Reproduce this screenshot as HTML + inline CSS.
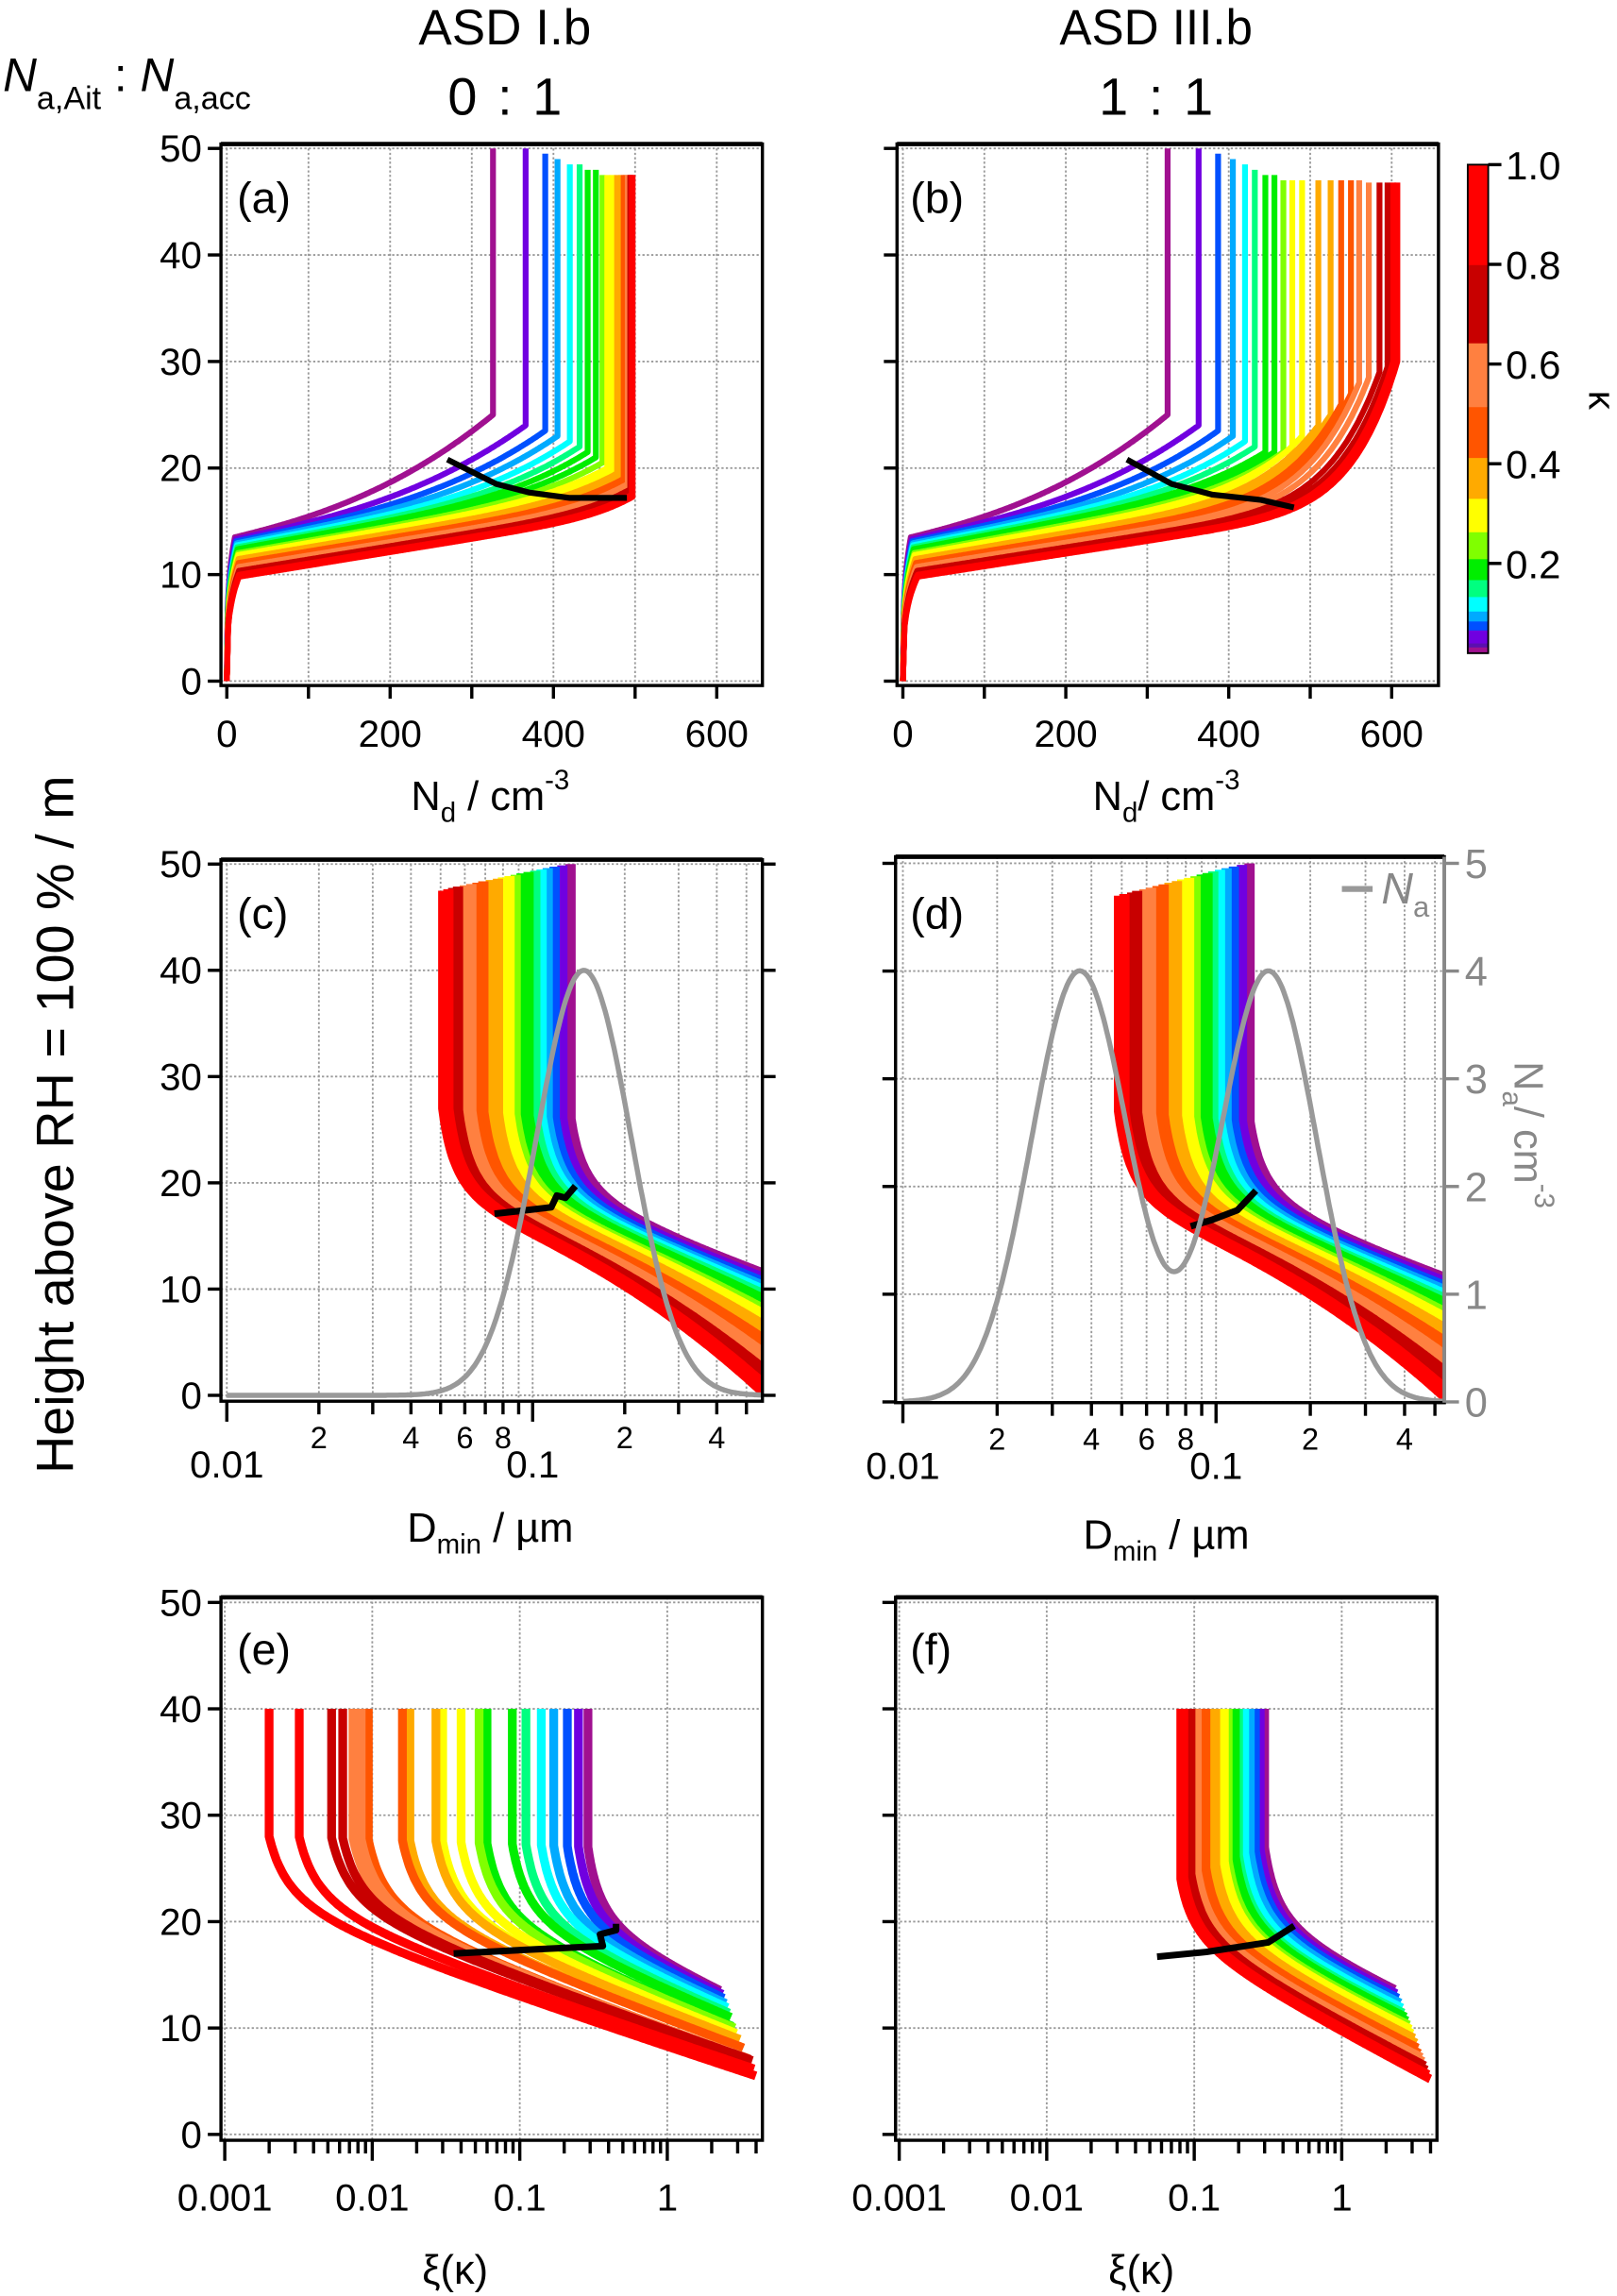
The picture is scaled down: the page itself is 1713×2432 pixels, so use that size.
<!DOCTYPE html>
<html><head><meta charset="utf-8"><style>
html,body{margin:0;padding:0;background:#fff}
svg{display:block}
text{font-family:"Liberation Sans",sans-serif}
</style></head><body>
<svg id="fig" width="1713" height="2432" viewBox="0 0 1105 1568" xmlns="http://www.w3.org/2000/svg">
<defs>
<clipPath id="clipA"><rect x="151" y="98" width="370" height="370"/></clipPath>
<clipPath id="clipB"><rect x="613" y="98" width="370" height="370"/></clipPath>
<clipPath id="clipC"><rect x="151" y="587" width="370" height="370"/></clipPath>
<clipPath id="clipD"><rect x="612" y="585" width="375" height="373"/></clipPath>
<clipPath id="clipE"><rect x="151" y="1091" width="370" height="371"/></clipPath>
<clipPath id="clipF"><rect x="612" y="1091" width="370" height="371"/></clipPath>
</defs>
<text x="345" y="30" font-size="34" text-anchor="middle" textLength="118" lengthAdjust="spacingAndGlyphs">ASD I.b</text>
<text x="345" y="78" font-size="36" text-anchor="middle">0 <tspan dx="4">:</tspan> <tspan dx="4">1</tspan></text>
<text x="790" y="30" font-size="34" text-anchor="middle" textLength="132" lengthAdjust="spacingAndGlyphs">ASD III.b</text>
<text x="790" y="78" font-size="36" text-anchor="middle">1 <tspan dx="4">:</tspan> <tspan dx="4">1</tspan></text>
<text x="2" y="62" font-size="32"><tspan font-style="italic">N</tspan><tspan font-size="22" dy="12">a,Ait</tspan><tspan dy="-12"> : </tspan><tspan font-style="italic">N</tspan><tspan font-size="22" dy="12">a,acc</tspan></text>
<text transform="translate(50,768) rotate(-90)" font-size="36" text-anchor="middle">Height above RH = 100 % / m</text>
</svg>
<script>
// ===== data =====
const kappas = [0.03,0.06,0.08,0.1,0.12,0.14,0.17,0.2,0.24,0.28,0.3,0.35,0.4,0.45,0.5,0.55,0.6,0.7,0.8,0.9,1.0];
const ndFinalA = [326,366,390,405,420,432,442,452,460,466,472,478,483,486,489,491,493,494,495,496,497];
const ndFinalB = [325,363,387,405,420,432,445,456,467,478,490,510,525,538,550,560,572,585,595,602,607];
const hEndA = [25,24,23.5,23,22.5,22,21.5,21,20.5,20,19.8,19.5,19.2,19,18.8,18.5,18.2,18,17.8,17.5,17.3];
const hEndB = [25,24,23.5,23,22.5,22,21.5,21.5,21.5,22,23,24,25,26,27,28,28.5,29,29.5,30,30];
const hTopA = [50,50,49.5,49,48.5,48.5,48,48,47.5,47.5,47.5,47.5,47.5,47.5,47.5,47.5,47.5,47.5,47.5,47.5,47.5];
const hTopB = [50,50,49.5,49,48.5,48,47.5,47.5,47,47,47,47,47,47,47,47,46.8,46.8,46.8,46.8,46.8];
const dVertC = [0.133,0.125,0.118,0.112,0.107,0.102,0.097,0.092,0.088,0.084,0.080,0.077,0.073,0.069,0.066,0.063,0.060,0.057,0.055,0.053,0.051];
const dVertD = [0.128,0.121,0.114,0.108,0.103,0.098,0.094,0.090,0.086,0.082,0.078,0.075,0.071,0.068,0.065,0.062,0.059,0.056,0.054,0.051,0.049];
const xiVertE = [0.29,0.25,0.21,0.17,0.14,0.11,0.089,0.060,0.053,0.040,0.030,0.027,0.018,0.016,0.0094,0.0084,0.0074,0.0063,0.0053,0.0032,0.0020];
const xiVertF = [0.30,0.28,0.26,0.24,0.22,0.20,0.19,0.18,0.17,0.16,0.15,0.14,0.13,0.12,0.11,0.105,0.10,0.095,0.09,0.085,0.081];
const blackA_N = [270,330,370,420,490];
const blackA_H = [20.8,18.5,17.7,17.2,17.2];
const blackB_N = [275,330,380,440,480];
const blackB_H = [20.8,18.5,17.5,17.0,16.3];
const blackC_D = [0.075,0.0876,0.115,0.12,0.128,0.138];
const blackC_H = [17.1,17.3,17.7,18.8,18.6,19.7];
const blackD_D = [0.083,0.097,0.117,0.134];
const blackD_H = [16.3,16.9,17.8,19.6];
const blackE_X = [0.0356,0.129,0.366,0.35,0.45,0.45];
const blackE_H = [17.0,17.4,17.7,18.8,19.2,19.8];
const blackF_X = [0.056,0.121,0.318,0.476];
const blackF_H = [16.7,17.15,18.05,19.6];
const naModesC = [0.147];
const naModesD = [0.0367,0.147];
const naPeak = 4;
const naSigma = 0.155;
const cbTicks = [0.2,0.4,0.6,0.8,1.0];
const cbBounds = [0.02,0.033,0.041,0.067,0.085,0.105,0.134,0.168,0.21,0.264,0.331,0.413,0.515,0.643,0.8,1.0];
const cbColors = ['#a01090','#5a10b0','#7000e0','#0050ff','#00aaff','#00ffff','#00ff80','#00ee00','#80ff00','#ffff00','#ffaa00','#ff5500','#ff8040','#c80000','#ff0000'];
const heightTicks = [0,10,20,30,40,50];
const ndTicks = [0,100,200,300,400,500,600];
const ndLabels = [0,200,400,600];
const naTicks = [0,1,2,3,4,5];

// ===== helpers =====
const NS='http://www.w3.org/2000/svg';
const svg=document.getElementById('fig');
function mk(tag,attrs,parent){const e=document.createElementNS(NS,tag);for(const k in attrs)e.setAttribute(k,attrs[k]);(parent||svg).appendChild(e);return e;}
function colorOf(k){for(let i=0;i<cbColors.length;i++){if(k<=cbBounds[i+1]+1e-9)return cbColors[i];}return cbColors[cbColors.length-1];}
const lg=Math.log10;
function lerp(a,b,t){return a+(b-a)*t;}
const n=kappas.length;

const P={
 A:{bx:151,by:98,bw:370,bh:370,x:v=>155+v*0.558,y:h=>465-h*7.28,clip:'clipA'},
 B:{bx:613,by:98,bw:370,bh:370,x:v=>617+v*0.5567,y:h=>465-h*7.28,clip:'clipB'},
 C:{bx:151,by:587,bw:370,bh:370,x:v=>155+(lg(v)+2)*209,y:h=>953-h*7.26,clip:'clipC'},
 D:{bx:612,by:585,bw:375,bh:373,x:v=>617+(lg(v)+2)*214,y:h=>957.5-h*7.36,clip:'clipD'},
 E:{bx:151,by:1091,bw:370,bh:371,x:v=>153.6+(lg(v)+3)*100.8,y:h=>1458-h*7.27,clip:'clipE'},
 F:{bx:612,by:1091,bw:370,bh:371,x:v=>614.5+(lg(v)+3)*100.8,y:h=>1458-h*7.27,clip:'clipF'}
};

function gridLine(x1,y1,x2,y2,g){const l=mk('line',{x1,y1,x2,y2,stroke:'#9a9a9a','stroke-width':1.2,'stroke-dasharray':'1.5,1.5'},g);

}
function tick(x1,y1,x2,y2,g,col){const l=mk('line',{x1,y1,x2,y2,stroke:col||'#000','stroke-width':2.2},g);

}
function label(x,y,s,size,g,anchor,col){const t=mk('text',{x,y,'font-size':size,'text-anchor':anchor||'middle',fill:col||'#000'},g);t.textContent=s;

return t;}

function frame(p,key){
 const g=mk('g',{});
 
 
 p.g=g;
 heightTicks.forEach(h=>{gridLine(p.bx,p.y(h),p.bx+p.bw,p.y(h),g);tick(p.bx-9,p.y(h),p.bx,p.y(h),g);});
 return g;
}
function box(p){
 const r=mk('rect',{x:p.bx,y:p.by,width:p.bw,height:p.bh,fill:'none',stroke:'#000','stroke-width':2.2},p.g);
 
 
 const t=mk('line',{x1:p.bx,y1:p.by,x2:p.bx+p.bw,y2:p.by,stroke:'#000','stroke-width':3},p.g);
 
 
}
function curve(p,pts,col,w,name){
 const d='M'+pts.map(q=>p.x(q[0]).toFixed(1)+','+p.y(q[1]).toFixed(1)).join('L');
 const e=mk('path',{d,fill:'none',stroke:col,'stroke-width':w,'stroke-linejoin':'round','clip-path':'url(#'+p.clip+')'},p.g);
 
 
 return e;
}

// ===== panels A, B =====
[['A',ndFinalA,hEndA,hTopA,6,10,6,2.5],['B',ndFinalB,hEndB,hTopB,7,11,6,2.5]].forEach(([key,NF,HE,HT,linR,pR,linP,pP])=>{
 const p=P[key];const g=frame(p,key.toLowerCase());
 ndTicks.forEach(v=>{gridLine(p.x(v),p.by,p.x(v),p.by+p.bh,g);tick(p.x(v),p.by+p.bh,p.x(v),p.by+p.bh+9,g);});
 if(key==='A')heightTicks.forEach(h=>label(p.bx-13,p.y(h)+9,String(h),26,g,'end'));
 ndLabels.forEach(v=>label(p.x(v),p.by+p.bh+42,String(v),26,g));
 for(let i=0;i<n;i++){
  const t=i/(n-1);const hk=lerp(13.5,9.8,t);const lin=lerp(linP,linR,t);const pw=lerp(pP,pR,t);
  const pts=[];
  for(let s=0;s<=300;s++){const r=s/300;let h;
   if(r<0.03)h=hk*Math.pow(r/0.03,0.3);
   else{const rr=(r-0.03)/0.97;h=hk+lin*rr+(HE[i]-hk-lin)*Math.pow(rr,pw);}
   pts.push([NF[i]*r,h]);}
  pts.push([NF[i],HT[i]]);
  curve(p,pts,colorOf(kappas[i]),4,'nd-curve-kappa-'+kappas[i]);
 }
 const bN=key==='A'?blackA_N:blackB_N,bH=key==='A'?blackA_H:blackB_H;
 curve(p,bN.map((v,j)=>[v,bH[j]]),'#000',4,'max-supersaturation-line');
 box(p);
});
(function(){const t=mk('text',{x:335,y:553,'font-size':28,'text-anchor':'middle'});t.innerHTML='N<tspan font-size="19" dy="8">d</tspan><tspan dy="-8"> / cm</tspan><tspan font-size="19" dy="-14">-3</tspan>';


const t2=mk('text',{x:797,y:553,'font-size':28,'text-anchor':'middle'});t2.innerHTML='N<tspan font-size="19" dy="8">d</tspan><tspan dy="-8">/ cm</tspan><tspan font-size="19" dy="-14">-3</tspan>';

})();

// ===== panels C, D =====
[['C',dVertC,naModesC],['D',dVertD,naModesD]].forEach(([key,DV,modes])=>{
 const p=P[key];const g=frame(p,key.toLowerCase());
 const dmaxLog=key==='C'?-0.25:-0.27;
 for(let dec=-2;dec<=-1;dec++)for(let m=1;m<=9;m++){const v=m*Math.pow(10,dec);if(lg(v)>dmaxLog)continue;
  const X=p.x(v);gridLine(X,p.by,X,p.by+p.bh,g);tick(X,p.by+p.bh,X,p.by+p.bh+(m===1?14:9),g);
  if(m===2||m===4||m===6||m===8)label(X,p.by+p.bh+32,String(m),21,g);}
 label(p.x(0.01),p.by+p.bh+52,'0.01',26,g);label(p.x(0.1),p.by+p.bh+52,'0.1',26,g);
 if(key==='C'){heightTicks.forEach(h=>{label(p.bx-13,p.y(h)+9,String(h),26,g,'end');tick(p.bx+p.bw,p.y(h),p.bx+p.bw+9,p.y(h),g);});}
 else{naTicks.forEach(v=>{tick(p.bx+p.bw,p.y(v*10),p.bx+p.bw+10,p.y(v*10),g,'#888');label(p.bx+p.bw+14,p.y(v*10)+10,String(v),28,g,'start','#888');});}
 for(let i=0;i<n;i++){
  const t=i/(n-1);const hK=lerp(26,27,t),hInf=lerp(17.1,16,t),s1=lerp(10,5,t),s2=lerp(0,10,t),w=0.05;
  const top=lerp(50,key==='C'?47.5:47,t);
  const pts=[[DV[i],top],[DV[i],hK]];
  const x0=lg(DV[i]);
  for(let s=1;s<=200;s++){const dl=(dmaxLog+0.02-x0)*s/200;const h=hInf+(hK-hInf)/(1+dl/w)-s1*dl-s2*dl*dl;pts.push([Math.pow(10,x0+dl),h]);}
  curve(p,pts,colorOf(kappas[i]),7,'dmin-band-kappa-'+kappas[i]);
 }
 const bd=key==='C'?blackC_D:blackD_D,bh=key==='C'?blackC_H:blackD_H;
 curve(p,bd.map((v,j)=>[v,bh[j]]),'#000',4.5,'max-supersaturation-line');
 const na=[];for(let s=0;s<=300;s++){const lx=-2+s/300*(dmaxLog+2);let v=0;modes.forEach(m=>{const z=(lx-lg(m))/naSigma;v+=naPeak*Math.exp(-z*z/2);});na.push([Math.pow(10,lx),v*10]);}
 curve(p,na,'#999',3.5,'aerosol-size-distribution');
 box(p);
 if(key==='D'){const ax=mk('line',{x1:p.bx+p.bw,y1:p.by,x2:p.bx+p.bw,y2:p.by+p.bh,stroke:'#888','stroke-width':2.5},g);
  
  }
});
(function(){
 const mkT=(x,y,name,html,extra)=>{const t=mk('text',Object.assign({x,y,'font-size':28,'text-anchor':'middle'},extra||{}));t.innerHTML=html;
  
  return t;};
 mkT(335,1053,'x-axis-title-c','D<tspan font-size="19" dy="8">min</tspan><tspan dy="-8"> / µm</tspan>');
 mkT(797,1058,'x-axis-title-d','D<tspan font-size="19" dy="8">min</tspan><tspan dy="-8"> / µm</tspan>');
 mkT(0,0,'y-axis-title-right','N<tspan font-size="19" dy="8">a</tspan><tspan dy="-8">/ cm</tspan><tspan font-size="19" dy="-14">-3</tspan>',{transform:'translate(1035,775) rotate(90)',fill:'#888'});
 const l=mk('line',{x1:917,y1:607,x2:938,y2:607,stroke:'#999','stroke-width':4});
 
 
 const lt=mk('text',{x:944,y:617,'font-size':30,fill:'#888'});lt.innerHTML='<tspan font-style="italic">N</tspan><tspan font-size="20" dy="9">a</tspan>';
 
 
})();

// ===== panels E, F =====
[['E',xiVertE,[18,20],[6,4.5],[27,28],[0.1,0.15]],['F',xiVertF,[18,17],[6,7.2],[27,24],[0.1,0.1]]].forEach(([key,XV,HI,SS,HV,WW])=>{
 const p=P[key];const g=frame(p,key.toLowerCase());
 for(let dec=-3;dec<=0;dec++)for(let m=1;m<=9;m++){const v=m*Math.pow(10,dec);if(p.x(v)>p.bx+p.bw-2)continue;
  const X=p.x(v);if(m===1)gridLine(X,p.by,X,p.by+p.bh,g);tick(X,p.by+p.bh,X,p.by+p.bh+(m===1?14:9),g);}
 ['0.001','0.01','0.1','1'].forEach(s=>label(p.x(parseFloat(s)),p.by+p.bh+48,s,26,g));
 if(key==='E')heightTicks.forEach(h=>label(p.bx-13,p.y(h)+9,String(h),26,g,'end'));
 for(let i=0;i<n;i++){
  const t=i/(n-1);const hv=lerp(HV[0],HV[1],t),hInf=lerp(HI[0],HI[1],t),s=lerp(SS[0],SS[1],t),w=lerp(WW[0],WW[1],t);
  const endL=lerp(0.36,0.6,t);const x0=lg(XV[i]);
  const pts=[[XV[i],40],[XV[i],hv]];
  for(let k=1;k<=200;k++){const dl=(endL-x0)*k/200;pts.push([Math.pow(10,x0+dl),hInf+(hv-hInf)/(1+dl/w)-s*dl]);}
  curve(p,pts,colorOf(kappas[i]),6,'xi-curve-kappa-'+kappas[i]);
 }
 const bx=key==='E'?blackE_X:blackF_X,bh=key==='E'?blackE_H:blackF_H;
 curve(p,bx.map((v,j)=>[v,bh[j]]),'#000',4.5,'max-supersaturation-line');
 box(p);
});
(function(){
 [311,780].forEach((x,j)=>{const t=mk('text',{x,y:1560,'font-size':28,'text-anchor':'middle'});t.textContent='ξ(κ)';
  
  });
})();

// panel labels
[['(a)',162,145],['(b)',622,145],['(c)',162,634],['(d)',622,634],['(e)',162,1137],['(f)',622,1137]].forEach(a=>{
 const t=mk('text',{x:a[1],y:a[2],'font-size':30});t.textContent=a[0];
 
 });

// ===== colorbar =====
(function(){
 const cy=k=>452.7-k*340.6;
 const g=mk('g',{});
 
 
 for(let i=0;i<cbColors.length;i++){const r=mk('rect',{x:1003,y:cy(cbBounds[i+1]),width:14,height:cy(cbBounds[i])-cy(cbBounds[i+1])+0.5,fill:cbColors[i]},g);
  
  }
 const f=mk('rect',{x:1003,y:cy(1),width:14,height:cy(0.02)-cy(1),fill:'none',stroke:'#000','stroke-width':1.2},g);
 
 
 cbTicks.forEach(k=>{tick(1017,cy(k),1026,cy(k),g);label(1029,cy(k)+10,k.toFixed(1),27,g,'start');});
 const kt=mk('text',{transform:'translate(1086,273) rotate(90)','font-size':26,'text-anchor':'middle'},g);kt.textContent='κ';
 
 
})();
</script>
</body></html>
